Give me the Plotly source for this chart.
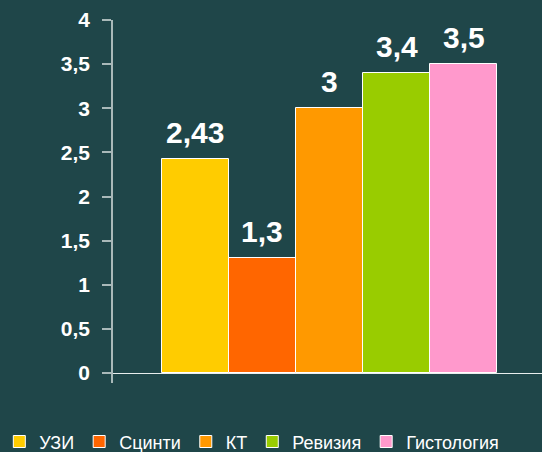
import plotly.graph_objects as go

series_names = ["УЗИ", "Сцинти", "КТ", "Ревизия", "Гистология"]
series_values = [2.43, 1.3, 3, 3.4, 3.5]
series_colors = ["#FFCC00", "#FF6600", "#FF9900", "#99CC00", "#FF99CC"]
y_tickvals = [0, 0.5, 1, 1.5, 2, 2.5, 3, 3.5, 4]

BG = "#1f4649"
FONT = "Arial, Liberation Sans, sans-serif"

fig = go.Figure()
for name, val, col in zip(series_names, series_values, series_colors):
    fig.add_trace(go.Bar(
        x=[name], y=[val], name=name,
        marker=dict(color=col, line=dict(color="white", width=1)),
        width=1.0,
    ))
    fig.add_annotation(
        x=name, y=val, xref="x", yref="y",
        text=f"{val:g}".replace(".", ","),
        showarrow=False, yanchor="bottom", yshift=8,
        font=dict(family=FONT, size=30, color="white", weight="bold"),
    )

fig.update_layout(
    width=542, height=452,
    paper_bgcolor=BG, plot_bgcolor=BG,
    margin=dict(l=113, r=0, t=20, b=69, autoexpand=False),
    barmode="overlay", bargap=0,
    separators=", ",
    showlegend=True,
    legend=dict(
        orientation="h", x=-0.265, xanchor="left", xref="paper",
        y=-0.162, yanchor="middle", yref="paper",
        font=dict(family=FONT, size=18, color="white"),
        bgcolor="rgba(0,0,0,0)", itemwidth=30,
    ),
    xaxis=dict(
        type="category", range=[-1.23, 5.17],
        showticklabels=False, showline=False, showgrid=False, zeroline=False,
        ticks="",
    ),
    yaxis=dict(
        range=[-0.113, 4], tickvals=y_tickvals,
        showgrid=False, zeroline=True, zerolinecolor="#e8eeee", zerolinewidth=1,
        showline=True, linecolor="#a9b9b9", linewidth=1.5,
        ticks="outside", ticklen=9, tickcolor="#a9b9b9", tickwidth=1.5,
        ticklabelstandoff=8,
        tickfont=dict(family=FONT, size=21, color="white", weight="bold"),
    ),
)

fig.write_html(
    "out.html",
    config={"displayModeBar": False},
    post_script="document.body.style.margin='0';document.body.style.background='" + BG + "';",
)
